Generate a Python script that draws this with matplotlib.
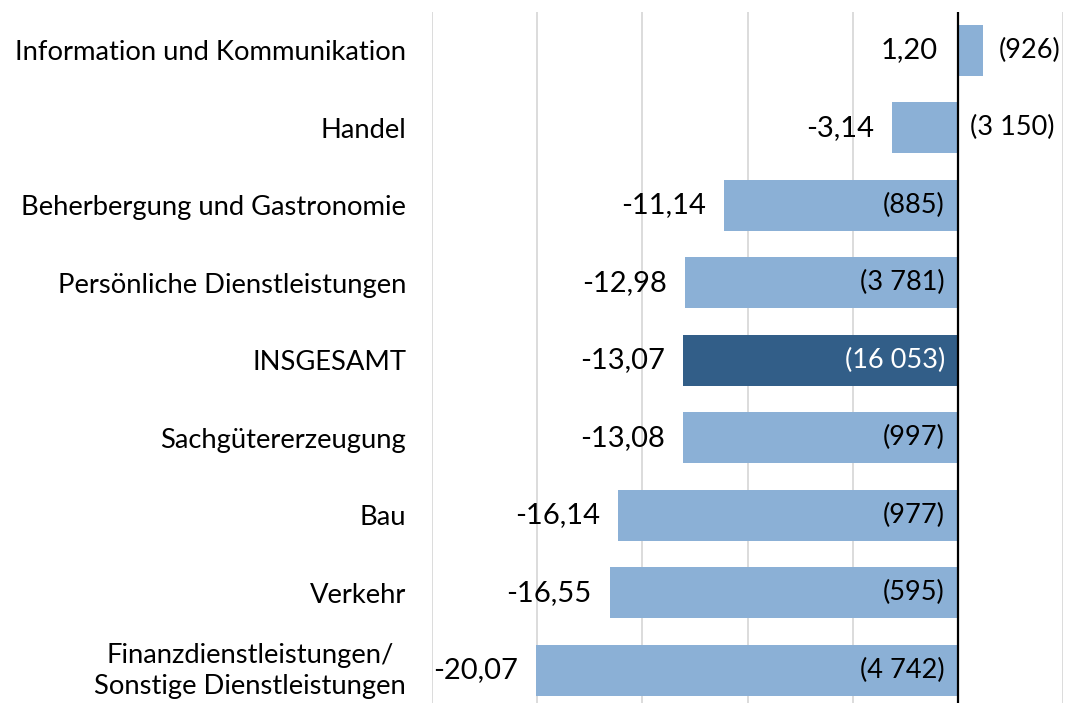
import matplotlib
matplotlib.use("Agg")
import matplotlib.pyplot as plt
import matplotlib.transforms as mtransforms

plt.rcParams['font.family'] = ['Lato', 'DejaVu Sans']

# data
categories = [
    "Information und Kommunikation",
    "Handel",
    "Beherbergung und Gastronomie",
    "Persönliche Dienstleistungen",
    "INSGESAMT",
    "Sachgütererzeugung",
    "Bau",
    "Verkehr",
    "Finanzdienstleistungen/\nSonstige Dienstleistungen",
]
values = [1.20, -3.14, -11.14, -12.98, -13.07, -13.08, -16.14, -16.55, -20.07]
counts = ["(926)", "(3 150)", "(885)", "(3 781)", "(16 053)", "(997)",
          "(977)", "(595)", "(4 742)"]

light = "#8BB0D6"
dark = "#325E88"

fig = plt.figure(figsize=(10.66, 7.03), dpi=100)
ax = fig.add_axes([432 / 1066, -6 / 703, 631 / 1066, 697.5 / 703])

y = list(range(len(categories)))
colors = [dark if c == "INSGESAMT" else light for c in categories]
ax.barh(y, values, height=0.66, color=colors, zorder=2)

ax.set_xlim(-25, 5)
ax.set_ylim(len(categories) - 0.5, -0.5)
ax.set_xticks(range(-25, 6, 5))
ax.xaxis.grid(True, color="#D9D9D9", linewidth=1.3, zorder=0)
ax.tick_params(axis="x", length=0, labelbottom=False)
ax.axvline(0, color="black", linewidth=1.6, zorder=3)
for s in ax.spines.values():
    s.set_visible(False)
ax.set_yticks([])

def px(dx, dy=0):
    return mtransforms.offset_copy(ax.transData, fig=fig, x=dx / 100 * 72,
                                   y=dy / 100 * 72, units="points")

# category labels
for i, cat in enumerate(categories):
    if "\n" in cat:
        ax.text(-25, i, cat, transform=px(-26, -1), ha="right", va="center",
                multialignment="center", linespacing=1.32, fontsize=19.75)
    else:
        ax.text(-25, i, cat, transform=px(-26), ha="right", va="center_baseline",
                fontsize=19.75)

for i, (v, c) in enumerate(zip(values, counts)):
    lab = f"{v:.2f}".replace(".", ",")
    if v >= 0:
        ax.text(0, i, lab, transform=px(-20), ha="right", va="center", fontsize=21)
        ax.text(v, i, c, transform=px(16), ha="left", va="center", fontsize=19.5)
    else:
        ax.text(max(v, -24.2), i, lab, transform=px(-18) if v > -24.2 else px(0),
                ha="right", va="center", fontsize=21)
        if v > -5:
            ax.text(0, i, c, transform=px(12), ha="left", va="center", fontsize=19.5)
        else:
            tc = "white" if colors[i] == dark else "black"
            ax.text(0, i, c, transform=px(-13), ha="right", va="center",
                    fontsize=19.5, color=tc)

fig.savefig("out.png", dpi=100)
